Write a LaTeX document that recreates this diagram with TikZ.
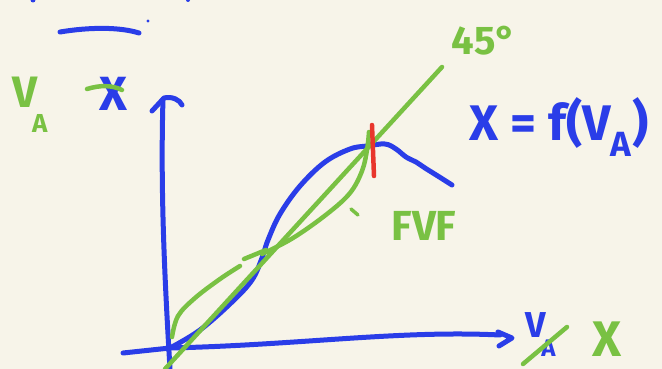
\documentclass[tikz,border=0pt]{standalone}
\usepackage{fontspec}
\setmainfont{Fira Sans}
\definecolor{bgc}{HTML}{F7F4E9}
\definecolor{penblue}{HTML}{2A3DE8}
\definecolor{pengreen}{HTML}{79C143}
\definecolor{penred}{HTML}{E8362C}
\newcommand{\lowsub}[3]{#1\kern#3\raisebox{-0.55em}{\fontsize{#2}{#2}\selectfont A}}
\begin{document}
\begin{tikzpicture}[x=1pt,y=-1pt,
  stroke/.style={line width=#1, line cap=round, line join=round},
  bluepen/.style={draw=penblue, stroke=5pt},
  greenpen/.style={draw=pengreen, stroke=4.5pt},
  redpen/.style={draw=penred, stroke=4.5pt},
  hand/.style={inner sep=0pt, font=\fontsize{#1}{#1}\selectfont\bfseries},
  bluetxt/.style={text=penblue},
  greentxt/.style={text=pengreen}]
\fill[bgc] (0,0) rectangle (662,369);
\useasboundingbox (0,0) rectangle (662,369);
% fragments at the top edge
\fill[penblue] (33,0) circle (2.5);
\fill[penblue] (188,0) circle (2);
% top dash and dot
\draw[bluepen] (60,32) .. controls (90,27) and (120,27) .. (139,33);
\fill[penblue] (148,21) circle (1.6);
% coordinates
\coordinate (O) at (170,348);
\coordinate (ytop) at (163,99);
\coordinate (ybot) at (170,369);
\coordinate (xleft) at (123,353);
\coordinate (xright) at (500,335);
\coordinate (peak) at (367,146);
% axes
\draw[bluepen] (ybot) .. controls (166,300) and (160,200) .. (ytop);
\draw[bluepen] (152,111) -- (164,98) .. controls (172,96) and (180,100) .. (182,105);
\draw[bluepen] (xleft) -- (O) .. controls (300,345) and (400,330) .. (xright);
\draw[bluepen] (498,332) -- (512,338) -- (499,346);
% blue S curve
\draw[bluepen] plot[smooth, tension=0.6] coordinates {(O) (200,330) (232,302) (252,280) (262,258) (268,240) (280,214) (300,186) (325,162) (350,149) (peak) (385,144) (396,149) (406,157) (416,162) (425,168) (433,173) (441,178) (452,185)};
% green 45 deg line
\draw[greenpen] (165,369) -- (442,67);
% green lens curves
\draw[greenpen] plot[smooth, tension=0.6] coordinates {(172,337) (178,316) (195,298) (220,279) (240,266)};
\draw[greenpen] (244,259) -- (266,250);
\draw[greenpen] plot[smooth, tension=0.6] coordinates {(262,254) (293,238) (327,214) (350,193) (362,171) (367,150) (369,132)};
% red marker
\draw[redpen] (372,125) -- (374,176);
% FVF
\draw[greenpen, stroke=3.5pt] (351,209) -- (358,215);
\node[hand=42, greentxt] (fvf) at (424,226) {FVF};
% 45 degrees
\node[hand=40, greentxt] (deg) at (484,41) {45°};
% X = f(V_A)
\node[hand=50, bluetxt] (eq) at (559,127) {X = f(V\textsubscript{A})};
% top-left labels
\node[hand=44, greentxt, anchor=base west] (va1) at (12,108) {\lowsub{V}{26pt}{-0.12em}};
\node[hand=48, bluetxt] (x1) at (113,94) {X};
\draw[greenpen] (87,89) .. controls (100,85) and (112,85) .. (122,90);
% bottom-right labels
\node[hand=36, bluetxt, anchor=base west] (va2) at (525,337) {\lowsub{V}{24pt}{-0.12em}};
\draw[greenpen] (523,364) -- (567,327);
\node[hand=50, greentxt] (x2) at (607,339) {X};
\end{tikzpicture}
\end{document}
